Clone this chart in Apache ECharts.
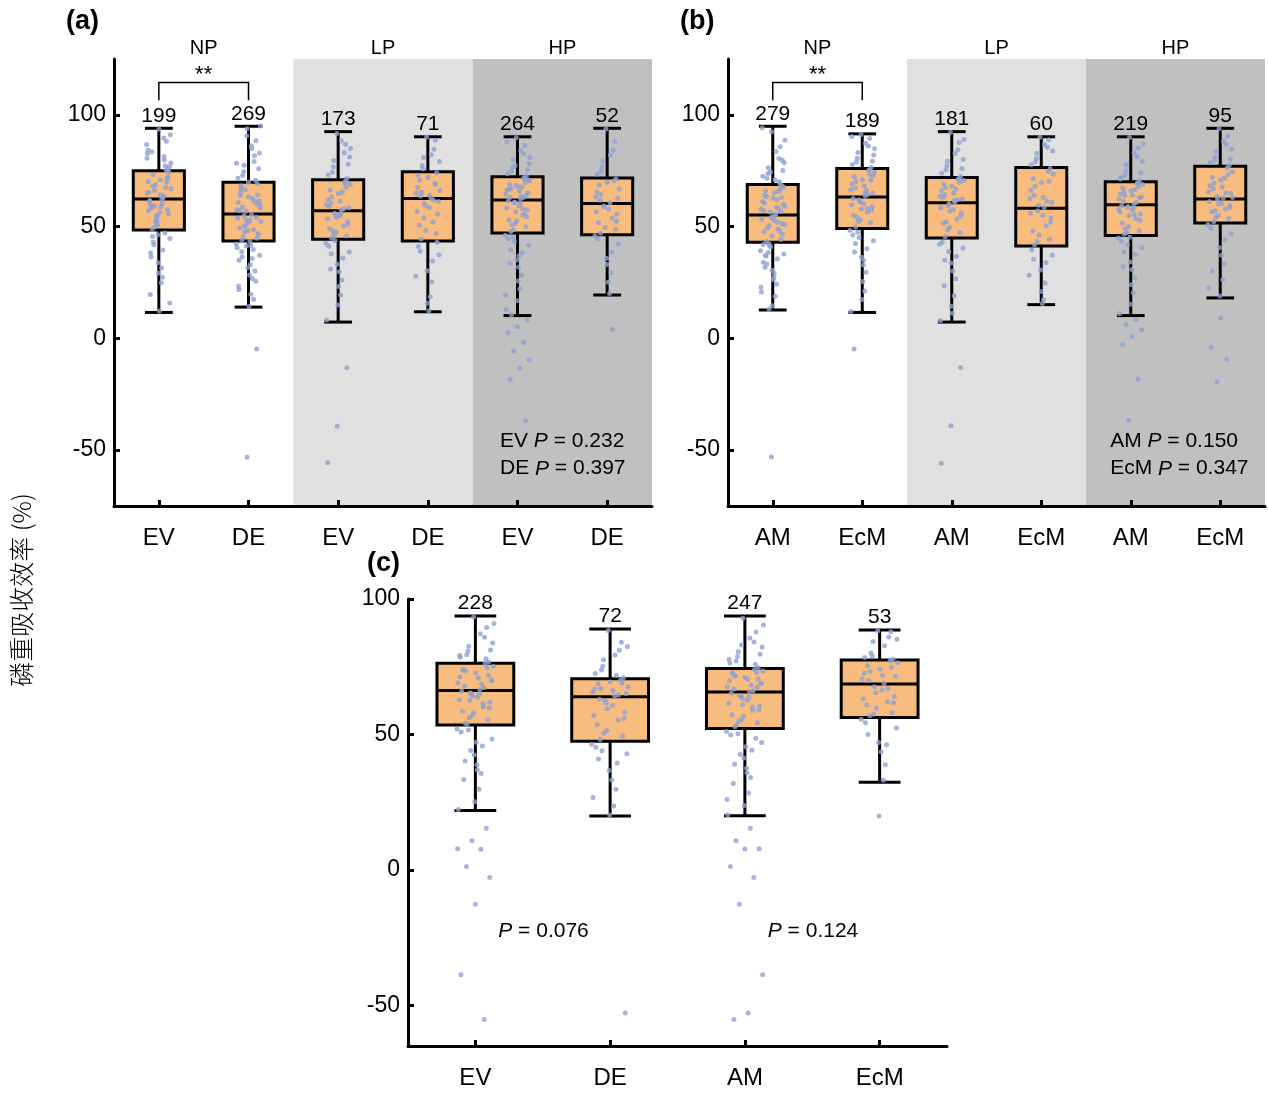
<!DOCTYPE html>
<html><head><meta charset="utf-8">
<script src="https://cdn.jsdelivr.net/npm/echarts@6/dist/echarts.min.js"></script>
<style>html,body{margin:0;padding:0;background:#fff}#main{width:1268px;height:1094px}</style>
</head><body><div id="main"></div>
<script>
// ---------------- DATA ----------------
const yTicks = [-50, 0, 50, 100];

// Panel (a)
const aCategories = ['EV', 'DE', 'EV', 'DE', 'EV', 'DE'];
const aGroups = ['NP', 'LP', 'HP'];
const aMin = [11.6, 14.0, 7.3, 11.9, 10.2, 19.4];
const aQ1  = [48.5, 43.6, 44.3, 43.6, 47.2, 46.4];
const aMed = [62.4, 55.7, 57.1, 62.6, 61.9, 60.4];
const aQ3  = [75.0, 69.8, 71.0, 74.6, 72.3, 71.8];
const aMax = [94.0, 94.9, 92.5, 90.2, 90.2, 94.0];
const aN   = [199, 269, 173, 71, 264, 52];
const aNotes = [['EV ', ' = 0.232'], ['DE ', ' = 0.397']];

const aEV_NP = [62.3,48.9,75.6,33.8,57.1,81.4,66.2,44.7,70.9,59.6,88.2,52.4,64.8,39.5,73.3,55.8,93.6,61.1,47.2,68.7,
78.5,24.9,58.4,71.6,50.7,84.3,63.7,41.9,76.9,56.3,19.6,67.5,53.1,86.8,60.4,45.6,72.2,29.3,65.4,79.8,
49.8,91.1,58.9,36.4,69.8,54.6,82.7,62.9,43.1,74.4,12.2,61.7,77.2,51.9,66.9,31.5,83.5,57.7,46.4,70.2,
89.6,59.2,15.8,64.1,38.2,75.1,55.1,80.6,27.4,68.1];
const aDE_NP = [55.4,43.9,69.2,31.6,60.8,48.7,77.5,37.2,52.9,65.1,88.4,41.3,57.6,26.8,72.9,46.2,63.4,34.9,81.7,50.6,
58.3,19.7,67.4,44.8,93.8,53.7,39.8,74.6,61.5,28.3,49.5,70.8,56.9,42.2,84.9,36.5,64.2,51.8,23.4,79.1,
47.6,59.9,33.1,68.3,54.2,90.7,40.6,62.6,45.5,75.9,14.3,57.1,30.2,66.5,52.3,86.1,38.8,60.1,48.1,71.7,
17.5,55.0,82.9,43.3,63.9,25.6,53.1,78.4,35.7,58.8,46.9,69.9,21.9,61.2,50.2,95.0,41.7,66.9,-4.7,-53.2];
const aEV_LP = [57.4,44.9,71.5,33.2,62.1,50.3,79.6,38.7,54.8,66.4,86.9,47.5,59.8,26.1,74.3,52.2,64.7,41.2,83.1,56.0,
68.9,19.4,60.6,45.8,91.7,53.5,36.0,76.8,58.5,29.8,49.1,70.2,55.3,42.6,88.3,63.3,51.0,14.9,73.1,57.9,
46.6,81.2,61.4,31.0,67.6,54.1,8.2,65.5,48.2,77.9,23.2,59.1,69.6,43.8,85.0,55.8,37.9,-13.1,-39.3,-55.6];
const aDE_LP = [62.8,44.5,74.1,30.3,67.5,52.1,80.9,37.4,58.6,70.7,88.7,48.3,64.9,25.2,77.3,55.7,72.0,41.1,84.6,60.3,
66.2,18.6,63.7,46.9,90.0,56.9,34.6,75.9,61.2,12.4,50.6,69.4,59.4,27.8,82.2,65.4,43.0,15.7,73.0,61.9,
53.8,79.1,64.2,39.0,68.8];
const aEV_HP = [62.4,47.8,72.6,35.1,66.3,55.2,79.8,41.7,59.3,69.1,86.3,51.4,64.5,28.4,74.9,57.6,68.0,44.6,82.6,60.7,
70.4,22.1,63.1,49.9,89.8,58.4,38.3,76.7,65.2,31.9,53.0,71.3,61.0,46.1,84.1,67.2,54.3,16.8,73.7,62.9,
48.6,78.2,65.9,33.5,69.7,56.7,12.9,67.8,50.8,75.6,25.7,61.6,71.9,43.4,80.9,60.1,39.6,64.0,52.6,88.0,
58.0,45.3,70.9,37.0,66.7,55.9,77.4,19.3,63.6,10.6,8.1,5.2,2.4,-1.9,-5.8,-9.7,-13.4,-18.3,-36.9,68.5];
const aDE_HP = [60.7,47.0,71.3,35.8,65.4,53.9,79.5,42.2,57.8,68.6,88.1,49.6,63.2,29.4,74.8,55.5,69.9,44.3,84.2,59.2,
66.8,20.1,61.8,48.8,93.7,56.6,38.5,76.9,62.7,25.1,51.7,70.5,58.9,45.9,82.0,64.3,52.4,33.0,73.4,4.1];

// Panel (b)
const bCategories = ['AM', 'EcM', 'AM', 'EcM', 'AM', 'EcM'];
const bGroups = ['NP', 'LP', 'HP'];
const bMin = [12.7, 11.6, 7.3, 15.1, 10.2, 18.1];
const bQ1  = [43.0, 49.2, 44.9, 41.3, 46.0, 51.6];
const bMed = [55.2, 63.3, 60.7, 58.2, 59.8, 62.4];
const bQ3  = [68.8, 76.0, 72.0, 76.4, 70.1, 77.0];
const bMax = [94.9, 91.5, 92.5, 90.2, 90.2, 94.0];
const bN   = [279, 189, 181, 60, 219, 95];
const bNotes = [['AM ', ' = 0.150'], ['EcM ', ' = 0.347']];

const bAM_NP = [55.6,43.4,68.4,30.5,61.2,48.9,76.3,37.8,52.6,64.0,85.7,40.9,57.9,24.2,71.6,46.5,62.8,34.1,80.5,50.4,
59.1,18.9,66.1,44.2,92.4,53.4,35.6,73.8,60.0,27.5,47.7,69.3,56.5,39.2,83.6,63.5,51.3,14.6,72.5,58.2,
42.5,78.6,65.2,31.8,67.0,54.0,20.8,61.9,49.4,75.1,26.3,57.2,70.1,41.6,88.6,55.0,36.9,63.0,45.8,94.2,
52.0,38.4,67.7,29.1,60.5,48.0,74.4,22.9,58.7,33.3,79.7,54.5,42.0,65.8,13.1,50.9,71.0,37.1,56.8,-53.1];
const bEcM_NP = [63.7,49.8,76.4,36.3,69.1,56.4,83.2,43.7,60.2,72.3,89.4,53.1,66.5,29.6,78.9,58.8,71.0,46.3,86.1,62.0,
74.2,21.2,67.3,51.7,91.2,59.7,40.1,80.6,65.0,32.8,55.0,75.3,61.5,48.4,87.3,70.2,57.3,17.4,77.8,64.4,
52.3,82.1,68.2,38.7,73.1,60.9,12.0,66.0,54.2,79.4,25.4,62.6,74.9,45.1,84.8,64.9,42.4,70.7,57.9,90.3,
58.1,47.5,72.8,35.0,-4.8];
const bAM_LP = [61.0,45.5,72.4,33.7,66.0,53.4,79.3,40.4,57.5,69.0,87.6,49.7,63.6,26.7,75.5,56.1,68.1,43.0,84.4,59.5,
70.6,19.1,64.3,47.4,92.1,58.3,36.8,77.2,62.3,30.1,51.5,71.5,60.3,42.1,82.7,67.4,54.7,14.4,73.9,62.0,
48.5,80.1,65.1,23.5,69.8,57.0,8.0,66.7,52.2,76.0,11.2,63.0,71.1,38.9,89.0,61.7,34.9,-13.0,-39.1,-55.9];
const bEcM_LP = [58.6,41.9,76.0,30.6,66.2,50.3,82.8,37.3,55.1,71.4,88.9,46.2,62.5,24.8,79.0,53.7,69.7,39.6,85.5,57.1,
73.6,17.3,64.0,44.4,90.0,56.0,33.9,80.5,60.8,15.6,48.0,74.7,59.6,28.2,86.7,67.9,52.0,21.0,77.7,61.3,
43.2,83.9,63.1,35.4,70.3];
const bAM_HP = [60.1,46.6,70.5,34.2,64.6,53.5,77.6,40.5,57.3,67.3,85.2,50.1,62.4,27.1,73.0,55.7,66.1,43.5,81.3,58.7,
68.9,20.4,61.2,48.2,89.9,56.5,37.5,75.0,63.3,30.8,51.6,69.6,59.0,44.9,83.0,65.5,52.8,15.3,72.0,60.8,
47.3,79.2,64.0,32.2,67.9,54.9,11.0,66.5,49.0,74.1,24.0,59.4,69.2,41.8,87.1,58.3,38.6,62.9,45.2,71.3,
8.3,6.1,3.9,0.8,-2.6,-18.2,-36.7,57.6,55.3,63.8];
const bEcM_HP = [62.7,52.2,77.4,40.6,68.3,57.9,83.7,46.8,60.4,72.1,90.6,55.0,65.6,33.4,79.8,59.3,70.9,49.4,86.9,63.6,
74.5,26.2,66.9,53.6,93.8,61.2,44.1,81.0,64.8,37.2,56.7,76.2,62.1,51.0,88.2,69.4,58.5,19.0,78.6,65.1,
54.1,84.6,67.8,30.1,73.3,60.0,22.5,71.6,57.1,80.3,9.1,-4.0,-9.5,-19.4,63.0];

// Panel (c)
const cCategories = ['EV', 'DE', 'AM', 'EcM'];
const cMin = [21.9, 19.9, 20.0, 32.4];
const cQ1  = [53.5, 47.5, 52.2, 56.3];
const cMed = [66.2, 63.9, 65.7, 68.6];
const cQ3  = [76.3, 70.6, 74.3, 77.5];
const cMax = [93.7, 88.9, 93.7, 88.6];
const cN   = [228, 72, 247, 53];
const cNotes = [['', ' = 0.076'], ['', ' = 0.124']];

const cEV = [66.5,54.1,76.7,42.4,71.2,60.3,82.6,48.3,63.7,74.0,89.5,57.0,69.1,35.6,79.4,61.9,72.7,50.9,85.9,65.4,
75.1,29.8,67.9,55.5,93.4,62.8,45.7,80.8,70.2,38.8,58.6,77.9,65.0,52.0,87.2,73.3,59.8,25.2,78.5,67.2,
56.2,83.8,70.8,33.4,74.6,64.2,22.3,68.6,53.9,81.2,47.1,66.0,76.0,44.1,91.0,64.9,40.2,71.9,58.0,79.1,
61.3,51.6,69.7,36.9,73.7,15.4,10.8,7.8,7.6,1.3,-2.8,-12.7,-38.7,-55.2,62.5];
const cDE = [64.2,48.1,70.9,36.7,66.8,55.3,77.6,42.9,60.7,68.7,84.0,51.5,65.7,29.8,73.8,58.2,69.4,45.3,81.1,62.4,
67.5,23.6,63.0,49.4,88.4,57.1,39.5,75.2,65.1,33.2,53.6,70.1,61.6,46.4,79.3,67.0,56.0,20.3,72.5,64.6,
50.5,82.5,66.2,40.9,69.0,59.5,26.7,71.8,44.0,-52.8];
const cAM = [65.9,52.8,74.6,41.3,69.8,58.9,80.5,47.0,62.6,72.3,87.8,55.6,67.5,34.1,77.1,60.5,71.0,49.8,84.1,64.4,
73.4,28.4,66.8,54.3,92.9,61.4,44.2,78.8,69.0,37.5,57.3,75.9,64.0,51.1,85.5,71.6,59.1,23.8,76.4,66.1,
55.0,82.3,70.3,31.9,73.0,63.3,20.4,68.2,53.5,79.6,45.5,65.2,74.0,42.7,90.4,63.8,39.0,70.6,56.8,77.8,
60.0,50.3,68.9,35.9,72.8,48.6,83.0,26.0,15.4,10.8,7.8,7.7,1.3,-2.8,-12.7,-38.7,-52.8,-55.2,67.4,61.0];
const cEcM = [68.9,56.9,77.8,47.0,72.6,62.1,84.3,52.4,66.4,75.4,87.9,59.7,70.5,38.8,80.1,64.0,74.1,54.3,86.0,67.6,
76.5,33.1,69.9,58.1,88.3,63.2,46.2,79.0,71.4,43.6,60.9,77.2,65.4,55.6,82.7,73.3,61.8,19.9,78.4,67.0,
57.5,85.1,71.9,50.0,74.8];

// ---------------- STYLE ----------------
const FONT = '"Liberation Sans", Arial, Helvetica, sans-serif';
const ORANGE = '#f8bc7e';
const BLUE = '#8da1d3';
const SHADES = ['#ffffff', '#e0e0e0', '#c0c0c0'];

function jitter(j) { return ((((j + 1) * 0.6180339887) % 1) - 0.5) * 0.28; }
function boxData(mn, q1, md, q3, mx, n) { return mn.map((m, i) => [i, m, q1[i], md[i], q3[i], mx[i], n[i]]); }
function pointData(groups) {
  const out = [];
  groups.forEach((vals, g) => vals.forEach((v, j) => out.push([g + jitter(j), v])));
  return out;
}

function renderBox(params, api) {
  const x = api.value(0);
  const lo = api.coord([x, api.value(1)]);
  const q1 = api.coord([x, api.value(2)]);
  const md = api.coord([x, api.value(3)]);
  const q3 = api.coord([x, api.value(4)]);
  const hi = api.coord([x, api.value(5)]);
  const band = api.size([1, 0])[0];
  const bw = band * 0.57, cw = band * 0.31, cx = lo[0];
  const ls = { stroke: '#000', lineWidth: 3 };
  return { type: 'group', children: [
    { type: 'line', shape: { x1: cx, y1: q1[1], x2: cx, y2: lo[1] }, style: ls },
    { type: 'line', shape: { x1: cx, y1: q3[1], x2: cx, y2: hi[1] }, style: ls },
    { type: 'line', shape: { x1: cx - cw / 2, y1: lo[1], x2: cx + cw / 2, y2: lo[1] }, style: ls },
    { type: 'line', shape: { x1: cx - cw / 2, y1: hi[1], x2: cx + cw / 2, y2: hi[1] }, style: ls },
    { type: 'rect', shape: { x: cx - bw / 2, y: q3[1], width: bw, height: q1[1] - q3[1] }, style: { fill: ORANGE, stroke: '#000', lineWidth: 3 } },
    { type: 'line', shape: { x1: cx - bw / 2, y1: md[1], x2: cx + bw / 2, y2: md[1] }, style: ls },
    { type: 'text', x: cx, y: hi[1] - 2, style: { text: String(api.value(6)), align: 'center', verticalAlign: 'bottom', fontSize: 21, fontFamily: FONT, fill: '#000' } }
  ]};
}

function renderBg(params, api) {
  const cs = params.coordSys;
  const p0 = api.coord([api.value(0), 0]);
  const p1 = api.coord([api.value(1), 0]);
  return { type: 'rect', shape: { x: p0[0], y: cs.y, width: p1[0] - p0[0], height: cs.height }, style: { fill: SHADES[api.value(2)] } };
}

function renderBracket(params, api) {
  const x0 = api.value(0), x1 = api.value(1);
  const a = api.coord([x0, api.value(3)]);
  const b = api.coord([x0, api.value(2)]);
  const c = api.coord([x1, api.value(2)]);
  const d = api.coord([x1, api.value(3)]);
  return { type: 'group', children: [
    { type: 'polyline', shape: { points: [a, b, c, d] }, style: { stroke: '#000', lineWidth: 1.5, fill: null } },
    { type: 'text', x: (b[0] + c[0]) / 2, y: b[1] + 3, style: { text: '**', align: 'center', verticalAlign: 'bottom', fontSize: 22, fontFamily: FONT, fill: '#000' } }
  ]};
}

function makeRenderNote(notes) {
  return function (params, api) {
    const p = api.coord([api.value(0), api.value(1)]);
    const t = notes[params.dataIndex];
    return { type: 'text', x: p[0], y: p[1], style: {
      text: (t[0] ? '{n|' + t[0] + '}' : '') + '{i|P}{n|' + t[1] + '}',
      rich: { n: { fontSize: 21, fontFamily: FONT, fill: '#000' }, i: { fontSize: 21, fontFamily: FONT, fontStyle: 'italic', fill: '#000' } },
      align: 'left', verticalAlign: 'middle', fill: '#000' } };
  };
}

const axisLineStyle = { color: '#000', width: 3 };

function catAxis(grid, cats) {
  return { type: 'category', gridIndex: grid, data: cats, position: 'bottom', boundaryGap: true, z: 10,
    axisLine: { show: true, onZero: false, lineStyle: axisLineStyle },
    axisTick: { show: true, inside: true, alignWithLabel: true, length: 6, lineStyle: axisLineStyle },
    axisLabel: { color: '#000', fontSize: 24, fontFamily: FONT, margin: 20 },
    splitLine: { show: false } };
}
function topAxis(grid, groups) {
  return { type: 'category', gridIndex: grid, data: groups, position: 'top', boundaryGap: true,
    axisLine: { show: false, onZero: false }, axisTick: { show: false },
    axisLabel: { color: '#000', fontSize: 20, fontFamily: FONT, margin: 1 }, splitLine: { show: false } };
}
function valXAxis(grid, n) {
  return { type: 'value', gridIndex: grid, min: -0.5, max: n - 0.5, show: false,
    axisLine: { onZero: false }, splitLine: { show: false } };
}
function valYAxis(grid, mn, mx) {
  return { type: 'value', gridIndex: grid, min: mn, max: mx, z: 10, position: 'left',
    axisLine: { show: true, onZero: false, lineStyle: axisLineStyle },
    axisTick: { show: true, inside: true, length: 6, lineStyle: axisLineStyle, customValues: yTicks },
    axisLabel: { color: '#000', fontSize: 23, fontFamily: FONT, margin: 8, customValues: yTicks },
    splitLine: { show: false } };
}

function panelSeries(xIdx, yIdx, box, groups, shadeGroups, bracket, notes, notePos) {
  const s = [];
  if (shadeGroups) {
    s.push({ type: 'custom', xAxisIndex: xIdx, yAxisIndex: yIdx, z: 1, silent: true,
      renderItem: renderBg, data: shadeGroups.map((g, i) => [2 * i - 0.5, 2 * i + 1.5, i]).filter(d => d[2] > 0) });
  }
  s.push({ type: 'custom', xAxisIndex: xIdx, yAxisIndex: yIdx, z: 2, silent: true, renderItem: renderBox, data: box,
    encode: { x: 0, y: [1, 2, 3, 4, 5] } });
  s.push({ type: 'scatter', xAxisIndex: xIdx, yAxisIndex: yIdx, z: 3, silent: true, symbolSize: 5,
    itemStyle: { color: BLUE }, data: pointData(groups) });
  if (bracket) {
    s.push({ type: 'custom', xAxisIndex: xIdx, yAxisIndex: yIdx, z: 4, silent: true, renderItem: renderBracket, data: [bracket] });
  }
  s.push({ type: 'custom', xAxisIndex: xIdx, yAxisIndex: yIdx, z: 4, silent: true, renderItem: makeRenderNote(notes), data: notePos });
  return s;
}

const chart = echarts.init(document.getElementById('main'), null, { renderer: 'canvas' });
const option = {
  animation: false,
  backgroundColor: '#fff',
  title: [
    { text: '(a)', left: 66, top: 8, padding: 0, textStyle: { fontSize: 27, fontWeight: 'bold', fontFamily: FONT, color: '#000' } },
    { text: '(b)', left: 680, top: 8, padding: 0, textStyle: { fontSize: 27, fontWeight: 'bold', fontFamily: FONT, color: '#000' } },
    { text: '(c)', left: 367, top: 550, padding: 0, textStyle: { fontSize: 27, fontWeight: 'bold', fontFamily: FONT, color: '#000' } }
  ],
  grid: [
    { left: 114, top: 59, width: 538, height: 447 },
    { left: 728, top: 59, width: 537, height: 447 },
    { left: 408, top: 599, width: 539, height: 447 }
  ],
  xAxis: [
    catAxis(0, aCategories), topAxis(0, aGroups), valXAxis(0, 6),
    catAxis(1, bCategories), topAxis(1, bGroups), valXAxis(1, 6),
    catAxis(2, cCategories), valXAxis(2, 4)
  ],
  yAxis: [valYAxis(0, -75, 125), valYAxis(1, -75, 125), valYAxis(2, -65, 100)],
  graphic: [
    { type: 'text', x: 21, y: 590, rotation: Math.PI / 2,
      style: { text: '磷重吸收效率 (%)', fontSize: 25, fontFamily: '"Noto Sans CJK SC", sans-serif', fontWeight: 300, align: 'center', verticalAlign: 'middle', fill: '#000' } }
  ],
  series: [].concat(
    panelSeries(2, 0, boxData(aMin, aQ1, aMed, aQ3, aMax, aN), [aEV_NP, aDE_NP, aEV_LP, aDE_LP, aEV_HP, aDE_HP], aGroups,
      [0, 1, 114.5, 106.5], aNotes, [[3.805, -45.8], [3.805, -58.3]]),
    panelSeries(5, 1, boxData(bMin, bQ1, bMed, bQ3, bMax, bN), [bAM_NP, bEcM_NP, bAM_LP, bEcM_LP, bAM_HP, bEcM_HP], bGroups,
      [0, 1, 114.5, 106.5], bNotes, [[3.77, -45.8], [3.77, -58.3]]),
    panelSeries(7, 2, boxData(cMin, cQ1, cMed, cQ3, cMax, cN), [cEV, cDE, cAM, cEcM], null,
      null, cNotes, [[0.17, -22.5], [2.17, -22.5]])
  )
};
chart.setOption(option);
</script>
</body></html>
